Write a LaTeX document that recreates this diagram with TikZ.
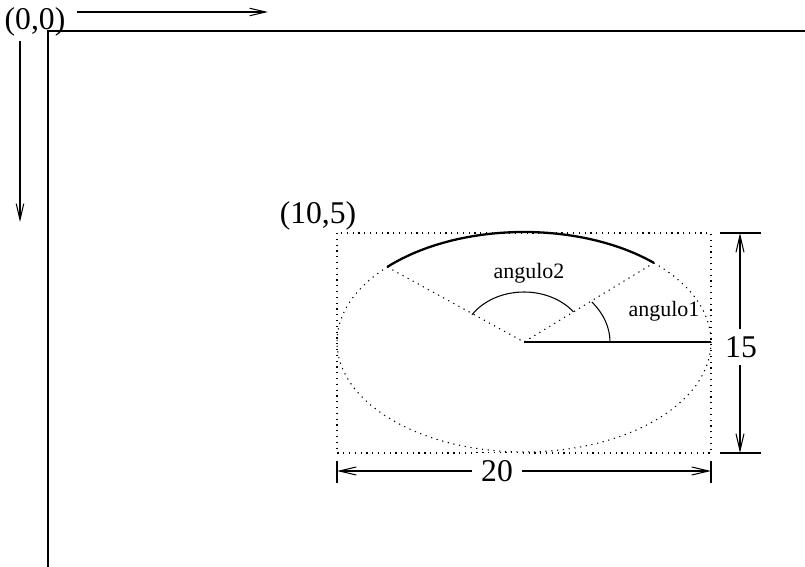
\documentclass[tikz,border=0pt]{standalone}
\usepackage{fontspec}
\setmainfont{Liberation Serif}
\usetikzlibrary{arrows.meta,positioning}

\tikzset{
  barb/.style={-{Straight Barb[length=3.2mm,width=1.5mm]}},
  dimline/.style={{Straight Barb[length=3.4mm,width=1.6mm]}-{Straight Barb[length=3.4mm,width=1.6mm]}},
  dots/.style={dash pattern=on 0.7pt off 2.6pt},
  big/.style={font=\fontsize{18}{20}\selectfont, inner sep=1pt},
  small/.style={font=\fontsize{12.5}{14}\selectfont, inner sep=1pt},
  gap/.style={fill=white, inner xsep=5pt, inner ysep=4pt},
}

\begin{document}
\begin{tikzpicture}[x=0.02cm,y=-0.02cm,line width=0.6pt]
  \useasboundingbox (0,0) rectangle (805,567);

  % screen axes
  \coordinate (O) at (48,31);
  \coordinate (xend) at (805,31);
  \coordinate (yend) at (48,567);
  \draw (xend) -- (O) -- (yend);
  \node[big] (origin) at (35,22) {(0,0)};
  \coordinate (xa) at (77,12);
  \coordinate (xb) at (268,12);
  \draw[barb] (xa) -- (xb);
  \coordinate (ya) at (20,41);
  \coordinate (yb) at (20,222);
  \draw[barb] (ya) -- (yb);

  % box and ellipse
  \coordinate (nw) at (337,233);
  \coordinate (se) at (711,453);
  \coordinate (C) at (524,342);
  \draw[dots] (nw) rectangle (se);
  \node[big] (corner) at (318,216) {(10,5)};
  \draw[dots] (C) ellipse [x radius=187, y radius=110];

  % arc and angles
  \path (C) ++(-46:187 and 110) coordinate (a1);
  \path (C) ++(-137:187 and 110) coordinate (a2);
  \draw[line width=1.3pt] (a1) arc[start angle=-46, end angle=-137, x radius=187, y radius=110];
  \draw[dots] (a2) -- (C) -- (a1);
  \draw (C) -- (C -| se);
  \path (C) ++(0:86 and 65) coordinate (r1);
  \draw (r1) arc[start angle=0, end angle=-38, x radius=86, y radius=65];
  \path (C) ++(-37:62 and 50) coordinate (r2);
  \draw (r2) arc[start angle=-37, end angle=-147, x radius=62, y radius=50];
  \node[small] (ang2) at (529,273) {angulo2};
  \node[small] (ang1) at (664,311) {angulo1};

  % width
  \coordinate (w1) at (337,471);
  \coordinate (w2) at (711,471);
  \coordinate (w1t) at (337,461);
  \coordinate (w1b) at (337,483);
  \coordinate (w2t) at (711,461);
  \coordinate (w2b) at (711,483);
  \draw (w1t) -- (w1b);
  \draw (w2t) -- (w2b);
  \draw[dimline] (w1) -- (w2);
  \node[big, gap] (width) at (497,471) {20};

  % height
  \coordinate (h1) at (740,233);
  \coordinate (h2) at (740,453);
  \coordinate (h1l) at (720,233);
  \coordinate (h1r) at (761,233);
  \coordinate (h2l) at (720,453);
  \coordinate (h2r) at (761,453);
  \draw (h1l) -- (h1r);
  \draw (h2l) -- (h2r);
  \draw[dimline] (h1) -- (h2);
  \node[big, gap] (height) at (741,347) {15};
\end{tikzpicture}
\end{document}
